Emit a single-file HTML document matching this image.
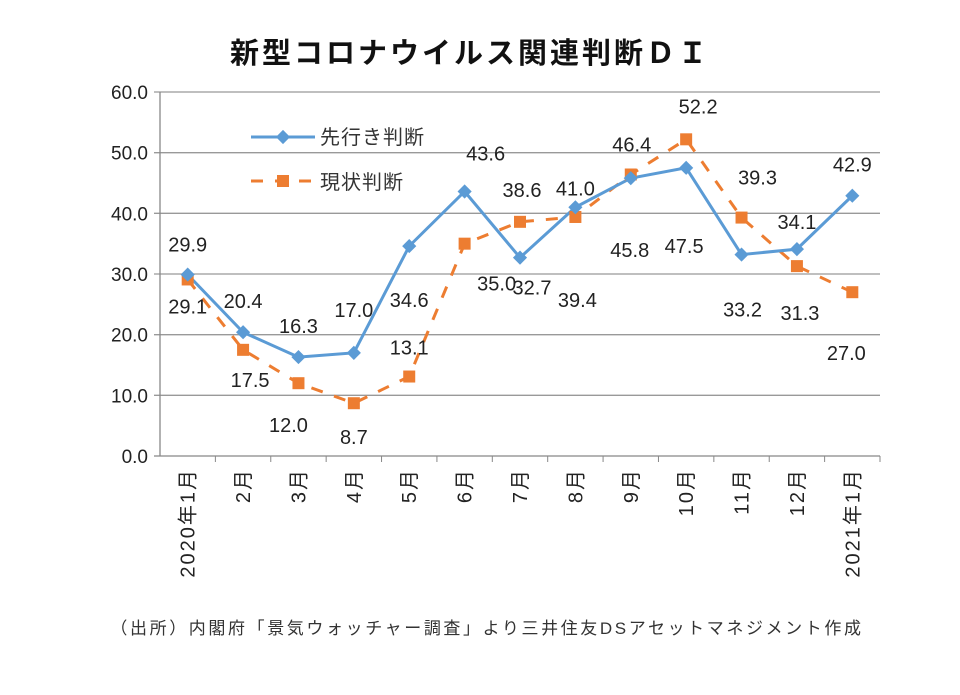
<!DOCTYPE html>
<html><head><meta charset="utf-8"><style>
body{margin:0;background:#fff;}
svg text{font-family:"Liberation Sans","Noto Sans CJK JP",sans-serif;}
</style></head><body>
<svg width="960" height="690" viewBox="0 0 960 690">
<text x="470" y="63" text-anchor="middle" font-size="29" font-weight="bold" letter-spacing="3" fill="#111">新型コロナウイルス関連判断ＤＩ</text>
<g id="grid"></g><g id="axes"></g><g id="series"></g><g id="labels"></g>
<g>
<line x1="251" y1="137" x2="315" y2="137" stroke="#5b9bd5" stroke-width="3"/>
<rect x="278" y="132" width="10" height="10" fill="#5b9bd5" transform="rotate(45 283 137)"/>
<text x="320" y="144" font-size="20" letter-spacing="1" fill="#333">先行き判断</text>
<line x1="251" y1="181" x2="315" y2="181" stroke="#ed7d31" stroke-width="3" stroke-dasharray="12,12"/>
<rect x="277" y="175" width="12" height="12" fill="#ed7d31"/>
<text x="320" y="189" font-size="20" letter-spacing="1" fill="#333">現状判断</text>
</g>
<text x="487" y="634" text-anchor="middle" font-size="17" letter-spacing="2.6" fill="#333">（出所）内閣府「景気ウォッチャー調査」より三井住友DSアセットマネジメント作成</text>
</svg>
<script>
const categories=["2020年1月","2月","3月","4月","5月","6月","7月","8月","9月","10月","11月","12月","2021年1月"];
const forecast=[29.9,20.4,16.3,17.0,34.6,43.6,32.7,41.0,45.8,47.5,33.2,34.1,42.9];
const current=[29.1,17.5,12.0,8.7,13.1,35.0,38.6,39.4,46.4,52.2,39.3,31.3,27.0];
const yTicks=[0,10,20,30,40,50,60];
const fcOff=[[0,-30],[0,-31],[0,-31],[0,-43],[0,54],[21,-38],[12,30],[0,-19],[-1,72],[-2,78],[1,55],[0,-27],[0,-31]];
const cuOff=[[0,27],[7,30],[-10,42],[0,34],[0,-29],[32,40],[2,-32],[2,83],[1,-30],[12,-33],[16,-40],[3,47],[-6,61]];
const NS="http://www.w3.org/2000/svg";
const L=160,R=880,T=92,B=456,ymax=60;
const bw=(R-L)/categories.length;
const x=i=>L+(i+0.5)*bw;
const y=v=>B-(v/ymax)*(B-T);
function mk(t,a,p){const e=document.createElementNS(NS,t);for(const k in a)e.setAttribute(k,a[k]);p.appendChild(e);return e;}
const grid=document.getElementById('grid'),axes=document.getElementById('axes'),ser=document.getElementById('series'),lab=document.getElementById('labels');
yTicks.forEach(v=>{
 const g=mk('line',{x1:L-6,x2:R,y1:y(v),y2:y(v),stroke:v===0?'#888':'#999','stroke-width':1.3},grid);
 
 
 const t=mk('text',{x:L-12,y:y(v)+7,'text-anchor':'end','font-size':19,fill:'#222'},axes);
 t.textContent=v.toFixed(1);
 
 
});
const ax=mk('line',{x1:L,x2:L,y1:T,y2:B,stroke:'#888','stroke-width':1.3},axes);


categories.forEach((c,i)=>{
 const tk=mk('line',{x1:L+(i+1)*bw,x2:L+(i+1)*bw,y1:B,y2:B+6,stroke:'#888'},axes);
 
 
 const t=mk('text',{x:0,y:0,'text-anchor':'end','font-size':20,'letter-spacing':2,fill:'#222',transform:`translate(${x(i)+7},${B+12}) rotate(-90)`},axes);
 t.textContent=c;
 
 
});
function line(data,color,dash,name){
 const p=mk('polyline',{points:data.map((v,i)=>x(i)+','+y(v)).join(' '),fill:'none',stroke:color,'stroke-width':3,'stroke-dasharray':dash},ser);
 
 
}
line(current,'#ed7d31','12,12','current');
line(forecast,'#5b9bd5','none','forecast');
current.forEach((v,i)=>{
 const r=mk('rect',{x:x(i)-6,y:y(v)-6,width:12,height:12,fill:'#ed7d31'},ser);
 
 
});
forecast.forEach((v,i)=>{
 const r=mk('rect',{x:x(i)-5,y:y(v)-5,width:10,height:10,fill:'#5b9bd5',transform:`rotate(45 ${x(i)} ${y(v)})`},ser);
 
 
});
function labels(data,off,name){
 data.forEach((v,i)=>{
  const t=mk('text',{x:x(i)+off[i][0],y:y(v)+off[i][1]+7,'text-anchor':'middle','font-size':20,fill:'#222'},lab);
  t.textContent=v.toFixed(1);
  
  
 });
}
labels(current,cuOff,'current');
labels(forecast,fcOff,'forecast');
</script>
</body></html>
